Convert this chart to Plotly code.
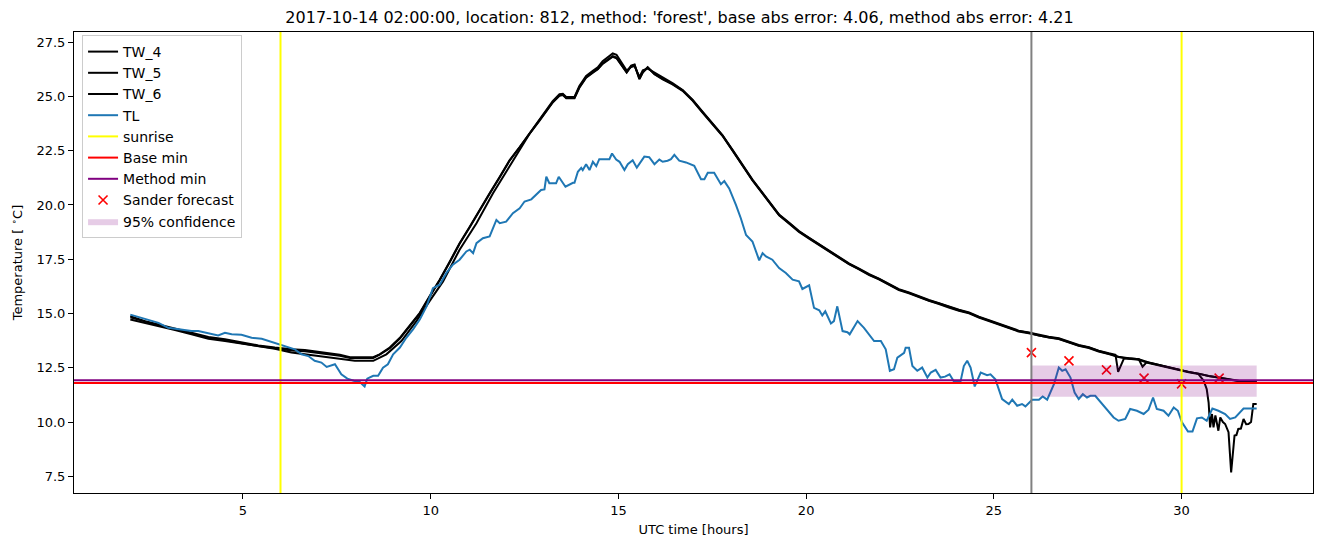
import plotly.graph_objects as go

# ---------------- data ----------------
tl_t = [2.0, 2.3, 2.48, 2.75, 3.01, 3.19, 3.37, 3.63, 3.81, 3.99, 4.17, 4.34, 4.52, 4.70, 4.96,
        5.23, 5.50, 5.76, 5.90, 6.03, 6.21, 6.38, 6.56, 6.74, 6.91, 7.09, 7.23, 7.45, 7.62, 7.78,
        7.95, 8.11, 8.19, 8.24, 8.31, 8.47, 8.60, 8.73, 8.86, 9.00, 9.18, 9.35, 9.53, 9.71, 9.89,
        10.06, 10.24, 10.42, 10.59, 10.77, 10.95, 11.04, 11.13, 11.22, 11.39, 11.57, 11.75, 11.84,
        12.01, 12.19, 12.37, 12.50, 12.68, 12.81, 12.94, 13.03, 13.08, 13.16, 13.34, 13.41, 13.59,
        13.79, 13.83, 13.92, 14.01, 14.05, 14.14, 14.23, 14.32, 14.41, 14.49, 14.76, 14.83, 14.94,
        15.03, 15.16, 15.25, 15.38, 15.49, 15.69, 15.82, 15.96, 16.09, 16.18, 16.31, 16.40, 16.49,
        16.62, 16.80, 17.02, 17.20, 17.29, 17.38, 17.55, 17.73, 17.82, 17.95, 18.13, 18.26, 18.40,
        18.57, 18.75, 18.84, 18.93, 19.10, 19.28, 19.46, 19.64, 19.81, 19.90, 20.08, 20.21, 20.35,
        20.43, 20.51, 20.66, 20.74, 20.83, 20.97, 21.10, 21.16, 21.37, 21.54, 21.81, 21.99, 22.12,
        22.23, 22.34, 22.43, 22.61, 22.65, 22.74, 22.83, 22.96, 23.09, 23.23, 23.32, 23.45, 23.58,
        23.70, 23.82, 23.94, 24.11, 24.20, 24.29, 24.38, 24.49, 24.65, 24.82, 24.91, 25.04, 25.22,
        25.40, 25.49, 25.62, 25.75, 25.84, 26.02, 26.20, 26.30, 26.42, 26.60, 26.73, 26.82, 26.91,
        27.04, 27.15, 27.26, 27.37, 27.48, 27.57, 27.70, 27.88, 28.01, 28.19, 28.32, 28.50, 28.63,
        28.81, 28.99, 29.12, 29.24, 29.34, 29.52, 29.65, 29.79, 29.90, 30.01, 30.17, 30.29, 30.41,
        30.54, 30.67, 30.82, 30.98, 31.16, 31.29, 31.43, 31.65, 31.87, 32.0]
tl_v = [14.95, 14.80, 14.69, 14.57, 14.34, 14.30, 14.23, 14.19, 14.19, 14.11, 14.04, 13.99, 14.11,
        14.04, 14.02, 13.88, 13.84, 13.69, 13.61, 13.53, 13.43, 13.35, 13.12, 13.04, 12.82, 12.74,
        12.54, 12.66, 12.20, 12.00, 11.90, 11.85, 11.72, 11.64, 12.00, 12.13, 12.13, 12.50, 12.66,
        13.12, 13.43, 13.88, 14.27, 14.72, 15.33, 16.17, 16.33, 16.87, 17.25, 17.48, 17.86, 17.94,
        17.78, 18.24, 18.47, 18.55, 19.31, 19.16, 19.23, 19.62, 19.85, 20.16, 20.26, 20.46, 20.69,
        20.72, 21.30, 21.00, 21.00, 21.30, 20.84, 21.02, 21.02, 21.53, 21.71, 21.61, 21.88, 21.61,
        21.99, 21.79, 22.11, 22.11, 22.37, 22.09, 21.99, 21.61, 21.88, 22.06, 21.72, 22.23, 22.20,
        21.88, 22.09, 21.99, 22.04, 22.11, 22.31, 22.04, 21.96, 21.81, 21.19, 21.19, 21.48, 21.48,
        20.96, 21.10, 20.76, 20.00, 19.39, 18.62, 18.32, 17.45, 17.78, 17.63, 17.48, 17.09, 16.87,
        16.56, 16.48, 16.13, 16.30, 15.26, 15.15, 14.91, 15.10, 14.54, 14.65, 15.33, 14.19, 14.14,
        14.04, 14.65, 14.34, 13.73, 13.73, 13.35, 12.36, 12.43, 12.97, 13.19, 13.42, 13.42, 12.58,
        12.36, 12.51, 12.05, 12.28, 12.40, 12.05, 12.09, 12.20, 11.85, 11.85, 12.58, 12.82, 12.51,
        11.64, 12.28, 12.16, 12.20, 11.97, 11.06, 10.83, 11.03, 10.75, 10.83, 10.72, 11.03, 11.03,
        11.18, 11.03, 11.74, 12.51, 12.36, 12.43, 12.05, 11.36, 11.06, 11.28, 11.13, 11.21, 11.21,
        10.83, 10.60, 10.21, 10.06, 10.14, 10.60, 10.52, 10.37, 10.57, 11.13, 10.60, 10.52, 10.29,
        10.67, 10.52, 9.99, 9.56, 9.56, 10.17, 10.21, 10.06, 10.62, 10.52, 10.37, 10.14, 10.21,
        10.62, 10.62, 10.62]

tw4_t = [2.0, 2.39, 2.75, 3.19, 3.63, 4.08, 4.52, 4.96, 5.41, 5.85, 6.29, 6.65, 7.0, 7.36, 7.58,
         7.85, 8.47, 8.64, 8.91, 9.18, 9.44, 9.71, 9.97, 10.24, 10.51, 10.77, 11.04, 11.30, 11.57,
         11.84, 12.10, 12.37, 12.63, 12.90, 13.08, 13.25, 13.43, 13.52, 13.61, 13.83, 13.96, 14.14,
         14.32, 14.45, 14.58, 14.72, 14.85, 14.95, 15.07, 15.22, 15.34, 15.43, 15.56, 15.65, 15.78,
         15.96, 16.18, 16.44, 16.71, 16.98, 17.24, 17.51, 17.77, 18.04, 18.31, 18.57, 18.84, 19.02,
         19.28, 19.55, 19.81, 20.08, 20.35, 20.61, 20.88, 21.14, 21.41, 21.68, 21.94, 22.21, 22.47,
         22.74, 23.01, 23.27, 23.54, 23.80, 24.07, 24.34, 24.60, 24.87, 25.13, 25.40, 25.66, 25.93,
         26.20, 26.46, 26.73, 26.99, 27.26, 27.53, 27.79, 28.06, 28.32, 28.59, 28.86, 29.12, 29.39,
         29.65, 29.92, 30.19, 30.45, 30.72, 30.98, 31.25, 31.52, 31.78, 32.0]
tw4_v = [14.88, 14.65, 14.50, 14.30, 14.11, 13.92, 13.81, 13.66, 13.53, 13.43, 13.35, 13.32, 13.23,
         13.15, 13.10, 12.99, 12.99, 13.12, 13.43, 13.88, 14.42, 15.03, 15.79, 16.56, 17.40, 18.24,
         19.00, 19.77, 20.54, 21.30, 22.06, 22.67, 23.29, 23.90, 24.36, 24.74, 25.05, 25.09, 24.94,
         24.94, 25.43, 25.89, 26.12, 26.27, 26.53, 26.71, 26.86, 26.79, 26.49, 26.12, 26.42, 26.47,
         25.81, 26.12, 26.35, 26.04, 25.81, 25.58, 25.28, 24.82, 24.28, 23.75, 23.21, 22.52, 21.83,
         21.15, 20.54, 20.15, 19.54, 19.16, 18.78, 18.47, 18.17, 17.86, 17.55, 17.29, 17.05, 16.79,
         16.59, 16.33, 16.10, 15.95, 15.76, 15.60, 15.46, 15.29, 15.15, 15.03, 14.83, 14.67, 14.50,
         14.34, 14.19, 14.11, 13.99, 13.91, 13.84, 13.69, 13.53, 13.43, 13.27, 13.15, 13.01, 12.94,
         12.89, 12.74, 12.63, 12.51, 12.40, 12.31, 12.23, 12.12, 12.05, 11.97, 11.90, 11.87, 11.87]

tw5_t = [2.0, 2.39, 2.75, 3.19, 3.63, 4.08, 4.52, 4.96, 5.41, 5.85, 6.29, 6.65, 7.0, 7.36, 7.58,
         7.85, 8.47, 8.64, 8.91, 9.18, 9.44, 9.71, 9.97, 10.24, 10.51, 10.77, 11.04, 11.30, 11.57,
         11.84, 12.10, 12.37, 12.63, 12.90, 13.08, 13.25, 13.43, 13.52, 13.61, 13.83, 13.96, 14.14,
         14.32, 14.45, 14.58, 14.72, 14.85, 14.95, 15.07, 15.22, 15.34, 15.43, 15.56, 15.65, 15.78,
         15.96, 16.18, 16.44, 16.71, 16.98, 17.24, 17.51, 17.77, 18.04, 18.31, 18.57, 18.84, 19.02,
         19.28, 19.55, 19.81, 20.08, 20.35, 20.61, 20.88, 21.14, 21.41, 21.68, 21.94, 22.21, 22.47,
         22.74, 23.01, 23.27, 23.54, 23.80, 24.07, 24.34, 24.60, 24.87, 25.13, 25.40, 25.66, 25.93,
         26.20, 26.46, 26.73, 26.99, 27.26, 27.53, 27.79, 28.06, 28.24, 28.31, 28.46, 28.59, 28.86,
         28.96, 29.08, 29.12, 29.39, 29.65, 29.92, 30.19, 30.45, 30.72, 30.98, 31.25, 31.52, 31.78,
         32.0]
tw5_v = [14.82, 14.62, 14.46, 14.27, 14.08, 13.88, 13.77, 13.63, 13.50, 13.40, 13.30, 13.26, 13.18,
         13.10, 13.05, 12.95, 12.95, 13.10, 13.40, 13.85, 14.40, 15.00, 15.76, 16.53, 17.37, 18.21,
         18.97, 19.75, 20.52, 21.28, 22.04, 22.66, 23.28, 23.92, 24.40, 24.78, 25.10, 25.12, 24.98,
         24.98, 25.48, 25.94, 26.18, 26.34, 26.62, 26.82, 26.98, 26.92, 26.58, 26.20, 26.36, 26.40,
         25.90, 26.20, 26.28, 26.10, 25.86, 25.62, 25.30, 24.84, 24.30, 23.76, 23.22, 22.54, 21.85,
         21.17, 20.56, 20.17, 19.56, 19.18, 18.80, 18.49, 18.19, 17.88, 17.57, 17.31, 17.07, 16.81,
         16.61, 16.35, 16.12, 15.97, 15.78, 15.62, 15.48, 15.31, 15.17, 15.05, 14.85, 14.69, 14.52,
         14.36, 14.21, 14.13, 14.01, 13.93, 13.86, 13.71, 13.55, 13.45, 13.29, 13.17, 13.10, 12.31,
         12.91, 12.94, 12.89, 12.55, 12.77, 12.74, 12.63, 12.51, 12.40, 12.31, 12.23, 12.12, 12.05,
         11.97, 11.88, 11.84, 11.84]

tw6_t = [2.0, 2.39, 2.75, 3.19, 3.63, 4.08, 4.52, 4.96, 5.41, 5.85, 6.29, 6.65, 7.0, 7.36, 7.71,
         7.98, 8.47, 8.56, 8.82, 9.22, 9.62, 9.97, 10.33, 10.77, 11.22, 11.66, 12.01, 12.37, 12.63,
         12.90, 13.08, 13.25, 13.43, 13.52, 13.61, 13.83, 13.96, 14.14, 14.32, 14.45, 14.58, 14.72,
         14.85, 14.95, 15.07, 15.22, 15.34, 15.43, 15.56, 15.65, 15.78, 15.96, 16.18, 16.44, 16.71,
         16.98, 17.24, 17.51, 17.77, 18.04, 18.31, 18.57, 18.84, 19.02, 19.28, 19.55, 19.81, 20.08,
         20.35, 20.61, 20.88, 21.14, 21.41, 21.68, 21.94, 22.21, 22.47, 22.74, 23.01, 23.27, 23.54,
         23.80, 24.07, 24.34, 24.60, 24.87, 25.13, 25.40, 25.66, 25.93, 26.20, 26.46, 26.73, 26.99,
         27.26, 27.53, 27.79, 28.06, 28.32, 28.59, 28.86, 29.12, 29.39, 29.65, 29.92, 30.19, 30.45,
         30.59, 30.67, 30.72, 30.76, 30.81, 30.85, 30.90, 30.98, 31.03, 31.10, 31.16, 31.25, 31.32,
         31.41, 31.46, 31.51, 31.58, 31.65, 31.72, 31.78, 31.85, 31.91, 32.0]
tw6_v = [14.72, 14.57, 14.42, 14.24, 14.04, 13.84, 13.73, 13.61, 13.47, 13.38, 13.20, 13.12, 13.04,
         12.97, 12.89, 12.82, 12.82, 12.89, 13.12, 13.73, 14.65, 15.57, 16.48, 17.94, 19.16, 20.54,
         21.53, 22.52, 23.27, 23.88, 24.34, 24.72, 25.03, 25.07, 24.92, 24.92, 25.40, 25.86, 26.10,
         26.25, 26.50, 26.68, 26.83, 26.76, 26.46, 26.10, 26.40, 26.45, 25.80, 26.10, 26.33, 26.02,
         25.79, 25.56, 25.26, 24.80, 24.26, 23.73, 23.19, 22.50, 21.81, 21.13, 20.52, 20.13, 19.52,
         19.14, 18.76, 18.45, 18.15, 17.84, 17.53, 17.27, 17.03, 16.77, 16.57, 16.31, 16.08, 15.93,
         15.74, 15.58, 15.44, 15.27, 15.13, 15.01, 14.81, 14.65, 14.48, 14.32, 14.17, 14.09, 13.97,
         13.89, 13.82, 13.67, 13.51, 13.41, 13.25, 13.13, 12.99, 12.92, 12.87, 12.72, 12.61, 12.49,
         12.38, 12.29, 12.21, 11.90, 11.51, 10.90, 9.75, 10.37, 9.75, 10.30, 9.60, 10.21, 10.00, 9.91,
         9.53, 7.68, 9.38, 9.40, 9.68, 9.70, 10.14, 9.90, 9.91, 10.00, 10.83, 10.83]

sunrise_hours = [6.0, 30.0]
forecast_start = 26.0
base_min = 11.80
method_min = 11.93

sander_t = [26, 27, 28, 29, 30, 31]
sander_v = [13.20, 12.82, 12.40, 12.02, 11.76, 12.02]

conf_t = [26.0, 32.0]
conf_lo = 11.16
conf_hi = 12.61

title_text = ("2017-10-14 02:00:00, location: 812, method: 'forest', "
              "base abs error: 4.06, method abs error: 4.21")

# ---------------- figure ----------------
FONT = "DejaVu Sans"
fig = go.Figure()

for name, t, v, rank in [("TW_4", tw4_t, tw4_v, 1), ("TW_5", tw5_t, tw5_v, 2),
                         ("TW_6", tw6_t, tw6_v, 3)]:
    fig.add_trace(go.Scatter(x=t, y=v, mode="lines", name=name,
                             line=dict(color="black", width=2), legendrank=rank))

fig.add_trace(go.Scatter(x=tl_t, y=tl_v, mode="lines", name="TL",
                         line=dict(color="#1f77b4", width=2), legendrank=4))

for i, h in enumerate(sunrise_hours):
    fig.add_vline(x=h, line=dict(color="yellow", width=2), layer="above",
                  name="sunrise", showlegend=(i == 0), legendrank=5)

fig.add_vline(x=forecast_start, line=dict(color="gray", width=2), layer="above")

fig.add_hline(y=base_min, line=dict(color="red", width=2), layer="above",
              name="Base min", showlegend=True, legendrank=6)
fig.add_hline(y=method_min, line=dict(color="purple", width=2), layer="above",
              name="Method min", showlegend=True, legendrank=7)

fig.add_trace(go.Scatter(x=sander_t, y=sander_v, mode="markers", name="Sander forecast",
                         marker=dict(symbol="x-thin", size=9, color="red",
                                     line=dict(color="red", width=1.6)),
                         legendrank=8))

fig.add_trace(go.Scatter(x=[conf_t[0], conf_t[1], conf_t[1], conf_t[0], conf_t[0]],
                         y=[conf_lo, conf_lo, conf_hi, conf_hi, conf_lo],
                         mode="lines", fill="toself", fillcolor="rgba(128,0,128,0.2)",
                         line=dict(width=0, color="rgba(128,0,128,0.2)"),
                         name="95% confidence", legendrank=9, hoverinfo="skip"))

axis_common = dict(showgrid=False, zeroline=False, showline=True, linecolor="black",
                   linewidth=1, mirror=True, ticks="outside", ticklen=5, tickwidth=1,
                   tickcolor="black", tickfont=dict(family=FONT, size=13, color="black"))

fig.update_layout(
    width=1324, height=547, autosize=False,
    margin=dict(l=74, r=11, t=32, b=54),
    paper_bgcolor="white", plot_bgcolor="white",
    font=dict(family=FONT, size=13, color="black"),
    title=dict(text=title_text, x=0.5 - 14 / 1239, xref="paper", xanchor="center",
               y=1 - 17 / 547, yref="container", yanchor="middle",
               font=dict(family=FONT, size=16, color="black")),
    xaxis=dict(range=[0.5, 33.5], tickvals=[5, 10, 15, 20, 25, 30],
               title=dict(text="UTC time [hours]", standoff=8,
                          font=dict(family=FONT, size=13)), **axis_common),
    yaxis=dict(range=[6.73, 27.97], tickvals=[7.5, 10, 12.5, 15, 17.5, 20, 22.5, 25, 27.5],
               tickformat=".1f",
               title=dict(text="Temperature [ <sup>∘</sup>C]", standoff=10,
                          font=dict(family=FONT, size=13)), **axis_common),
    legend=dict(x=0.0065, y=1 - 3 / 461, xanchor="left", yanchor="top",
                bgcolor="rgba(255,255,255,0.8)", bordercolor="#cccccc", borderwidth=1,
                font=dict(family=FONT, size=14, color="black"), tracegroupgap=0),
    showlegend=True,
)

fig.write_html("out.html")
